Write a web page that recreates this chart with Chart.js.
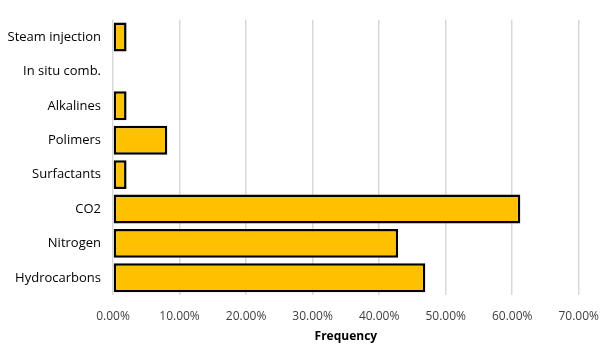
<!DOCTYPE html>
<html><head><meta charset="utf-8">
<script src="https://cdn.jsdelivr.net/npm/chart.js@4"></script>
<style>html,body{margin:0;padding:0;background:#fff}#wrap{width:613px;height:354px}</style>
</head><body><div id="wrap"><canvas id="c" width="613" height="354"></canvas></div>
<script>
const categories = ["Steam injection","In situ comb.","Alkalines","Polimers","Surfactants","CO2","Nitrogen","Hydrocarbons"];
const frequency = [2.04, 0, 2.04, 8.16, 2.04, 61.22, 42.86, 46.94];
const xTicks = [0,10,20,30,40,50,60,70];
const axisTitle = "Frequency";

new Chart(document.getElementById('c'), {
  type: 'bar',
  data: { labels: categories, datasets: [{ data: frequency, backgroundColor: '#FFC000', borderColor: '#000', borderWidth: 2.5, borderSkipped: false, categoryPercentage: 1, barPercentage: 0.84 }] },
  options: {
    indexAxis: 'y', responsive: false, animation: false,
    layout: { padding: { left: 0, right: 33, top: 18, bottom: 10 } },
    plugins: { legend: { display: false }, tooltip: { enabled: false } },
    scales: {
      x: { min: 0, max: 70,
        afterBuildTicks: a => { a.ticks = xTicks.map(v => ({ value: v })); },
        afterFit: a => { a.height = 49; },
        grid: { color: '#d9d9d9', lineWidth: 1.5, drawTicks: false },
        border: { display: false },
        ticks: { padding: 14, maxRotation: 0, color: '#404040', font: { family: 'Open Sans', size: 12 }, callback: v => Number(v).toFixed(2) + '%' },
        title: { display: true, text: axisTitle, color: '#000', font: { family: 'Open Sans', size: 12, weight: 'bold' }, padding: { top: 0, bottom: 0 } } },
      y: { afterFit: a => { a.width = 113; },
        grid: { display: false, drawTicks: false }, border: { display: false },
        ticks: { padding: 12, color: '#000', font: { family: 'Open Sans', size: 13 } } }
    }
  }
});
</script></body></html>
